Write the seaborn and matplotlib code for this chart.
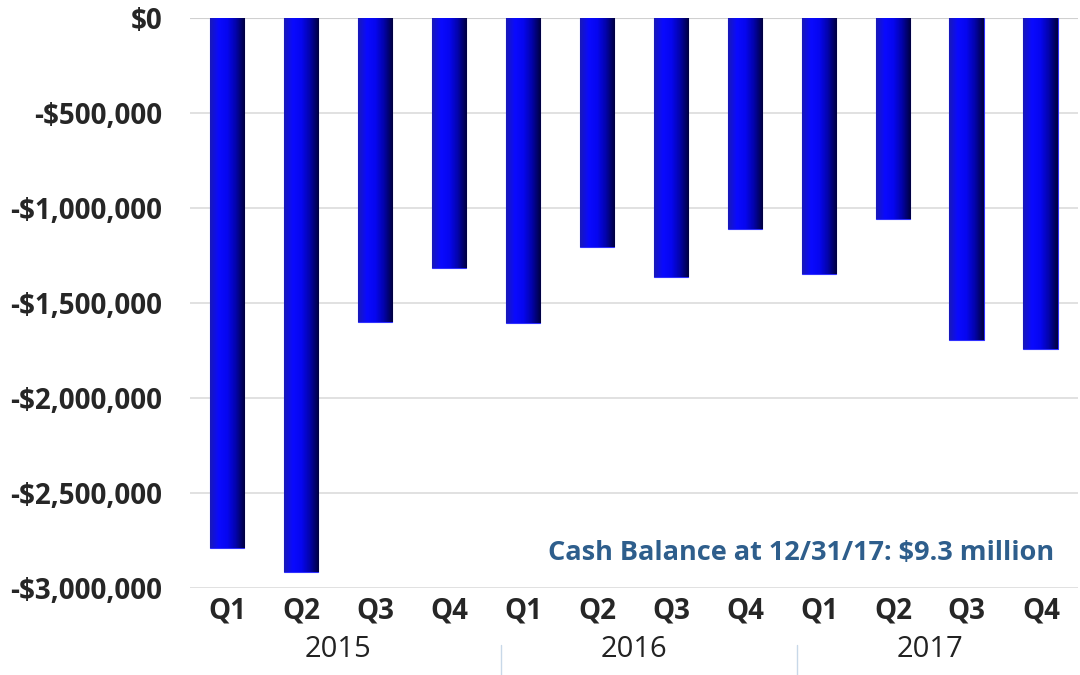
import numpy as np
import pandas as pd
import matplotlib
matplotlib.use('Agg')
import matplotlib.pyplot as plt
import matplotlib.transforms as mtransforms
from matplotlib.colors import LinearSegmentedColormap
from matplotlib.ticker import FuncFormatter
import seaborn as sns

years = ['2015', '2016', '2017']
quarters = ['Q1', 'Q2', 'Q3', 'Q4']
# quarterly cash burn
burn = [-2790000, -2915000, -1600000, -1315000,
        -1605000, -1205000, -1363000, -1110000,
        -1347000, -1058000, -1695000, -1742000]
note = 'Cash Balance at 12/31/17: $9.3 million'

df = pd.DataFrame({
    'period': [f'{y} {q}' for y in years for q in quarters],
    'quarter': [q for y in years for q in quarters],
    'burn': burn,
})

sns.set_style('white')
plt.rcParams['font.family'] = ['Open Sans', 'DejaVu Sans']

fig = plt.figure(figsize=(10.8, 6.75), dpi=100)
ax = fig.add_axes([0.176, 0.129, 0.822, 0.844])

sns.barplot(data=df, x='period', y='burn', color='#0A0AF0', width=0.47,
            saturation=1, ax=ax, zorder=3)

# cylinder-ish shading on each bar
shade = LinearSegmentedColormap.from_list(
    'shade', ['#1818B8', '#0A0AFF', '#0606F0', '#0303A8', '#000040'])
grad = np.linspace(0, 1, 64).reshape(1, -1)
for p in list(ax.patches):
    x0, y0 = p.get_x(), p.get_y()
    w, h = p.get_width(), p.get_height()
    im = ax.imshow(grad, cmap=shade, aspect='auto', zorder=4,
                   extent=[x0, x0 + w, y0 + h, y0])
    im.set_clip_path(p)
    p.set_edgecolor('#3030FF')
    p.set_linewidth(0.8)

ax.set_xlim(-0.5, len(burn) - 0.5)
ax.set_ylim(-3000000, 0)
ax.set_yticks(np.arange(-3000000, 1, 500000))
ax.yaxis.set_major_formatter(FuncFormatter(
    lambda v, pos: '$0' if v == 0 else f'-${abs(v):,.0f}'))
ax.grid(axis='y', color='#DCDCDC', linewidth=1.2, zorder=0)
ax.set_axisbelow(True)
for s in ax.spines.values():
    s.set_visible(False)
ax.axhline(0, color='#D0D0D0', linewidth=1.5, zorder=2)

ax.set_xticks(range(len(burn)))
ax.set_xticklabels(df['quarter'], fontsize=20, fontweight='bold')
ax.tick_params(axis='x', length=0, pad=6)
ax.tick_params(axis='y', length=6, color='#DCDCDC', pad=14, labelsize=20)
for t in ax.get_yticklabels():
    t.set_fontweight('bold')
ax.set_xlabel('')
ax.set_ylabel('')

# year group labels and separators below the quarter labels
tr = mtransforms.blended_transform_factory(ax.transData, ax.transAxes)
for i, y in enumerate(years):
    ax.text(i * 4 + 1.5, -0.108, y, transform=tr, ha='center', va='center',
            fontsize=21, color='#222222')
for sep in [3.7, 7.7]:
    ax.plot([sep, sep], [-0.10, -0.16], transform=tr, color='#C8D8E8',
            linewidth=1, clip_on=False)

ax.text(0.973, 0.061, note, transform=ax.transAxes, ha='right', va='center',
        fontsize=19.5, fontweight='bold', color='#2E5E8C', zorder=5)

fig.savefig('out.png', dpi=100)
